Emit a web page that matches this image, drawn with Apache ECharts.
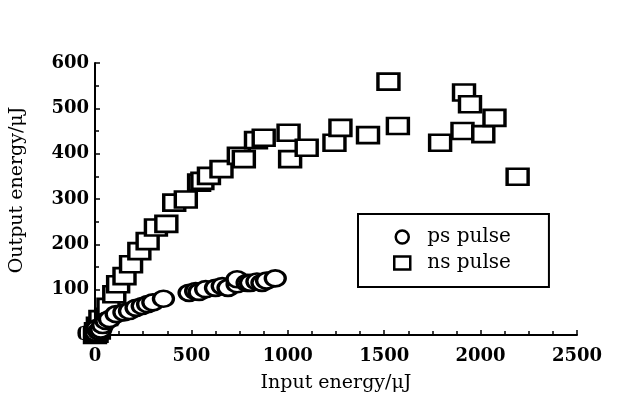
<!DOCTYPE html>
<html><head><meta charset="utf-8">
<script src="https://cdn.jsdelivr.net/npm/echarts@6/dist/echarts.min.js"></script>
<style>html,body{margin:0;padding:0;background:#fff}#c{width:639px;height:398px}</style>
</head><body><div id="c"></div>
<script>
const xTicks = [0, 500, 1000, 1500, 2000, 2500];
const yTicks = [0, 100, 200, 300, 400, 500, 600];
const nsInput  = [0,8,5,20,15,28,58,70,100,120,153,187,230,273,316,370,411,471,540,557,591,656,746,772,835,875,1004,1012,1098,1242,1273,1416,1522,1571,1790,1906,1914,1945,2014,2072,2192];
const nsOutput = [0,3,8,10,20,35,40,62,90,112,130,156,185,207,237,245,292,299,336,340,351,366,395,388,430,435,446,388,413,424,457,441,559,461,424,450,535,509,443,479,349];
const psInput  = [0,12,3,10,20,30,40,57,75,110,150,179,213,245,273,300,355,488,522,540,574,625,660,690,737,737,789,806,840,866,890,935];
const psOutput = [2,3,5,15,8,12,22,31,35,46,50,53,60,64,68,72,80,93,97,95,101,104,108,104,112,123,115,115,118,115,120,125];
const seriesNames = ['ps pulse', 'ns pulse'];

const font = 'DejaVu Serif';
const chart = echarts.init(document.getElementById('c'), null, {renderer: 'canvas'});
const zip = (a, b) => a.map((v, i) => [v, b[i]]);
const mk = {color: '#fff', borderColor: '#000', borderWidth: 3, opacity: 1};
chart.setOption({
  animation: false,
  backgroundColor: '#fff',
  grid: {left: 92, right: 62, top: 63, bottom: 63},
  xAxis: {
    type: 'value', min: xTicks[0], max: xTicks[xTicks.length - 1], interval: 500,
    name: 'Input energy/μJ', nameLocation: 'middle', nameGap: 39,
    nameTextStyle: {fontFamily: font, fontSize: 19, color: '#000'},
    axisLine: {show: true, onZero: false, lineStyle: {color: '#000', width: 2}},
    axisTick: {show: true, inside: true, length: 5, lineStyle: {color: '#000', width: 1.5}},
    minorTick: {show: true, splitNumber: 4, length: 4, lineStyle: {color: '#000', width: 1.5}},
    axisLabel: {fontFamily: font, fontSize: 18, fontWeight: 'bold', color: '#000', margin: 12, formatter: v => String(v)},
    splitLine: {show: false}
  },
  yAxis: {
    type: 'value', min: yTicks[0], max: yTicks[yTicks.length - 1], interval: 100,
    name: 'Output energy/μJ', nameLocation: 'middle', nameGap: 68,
    nameTextStyle: {fontFamily: font, fontSize: 19, color: '#000', padding: [0, 0, 0, 18]},
    axisLine: {show: true, onZero: false, lineStyle: {color: '#000', width: 2}},
    axisTick: {show: true, inside: true, length: 5, lineStyle: {color: '#000', width: 1.5}},
    minorTick: {show: true, splitNumber: 2, length: 4, lineStyle: {color: '#000', width: 1.5}},
    axisLabel: {fontFamily: font, fontSize: 18, fontWeight: 'bold', color: '#000', margin: 6, formatter: v => String(v)},
    splitLine: {show: false}
  },
  legend: {
    left: 358, top: 214, orient: 'vertical',
    padding: [13, 38, 14, 35], itemGap: 6, itemWidth: 16, itemHeight: 13,
    borderColor: '#000', borderWidth: 2,
    textStyle: {fontFamily: font, fontSize: 20, lineHeight: 14, color: '#000', padding: [0, 0, 0, 12]},
    data: seriesNames.map(n => ({name: n, itemStyle: {color: '#fff', borderColor: '#000', borderWidth: 2.5, opacity: 1}}))
  },
  series: [
    {name: seriesNames[1], type: 'scatter', symbol: 'rect', symbolSize: [21, 16], itemStyle: mk, data: zip(nsInput, nsOutput)},
    {name: seriesNames[0], type: 'scatter', symbol: 'circle', symbolSize: [20, 16], itemStyle: mk, data: zip(psInput, psOutput)}
  ]
});
</script></body></html>
